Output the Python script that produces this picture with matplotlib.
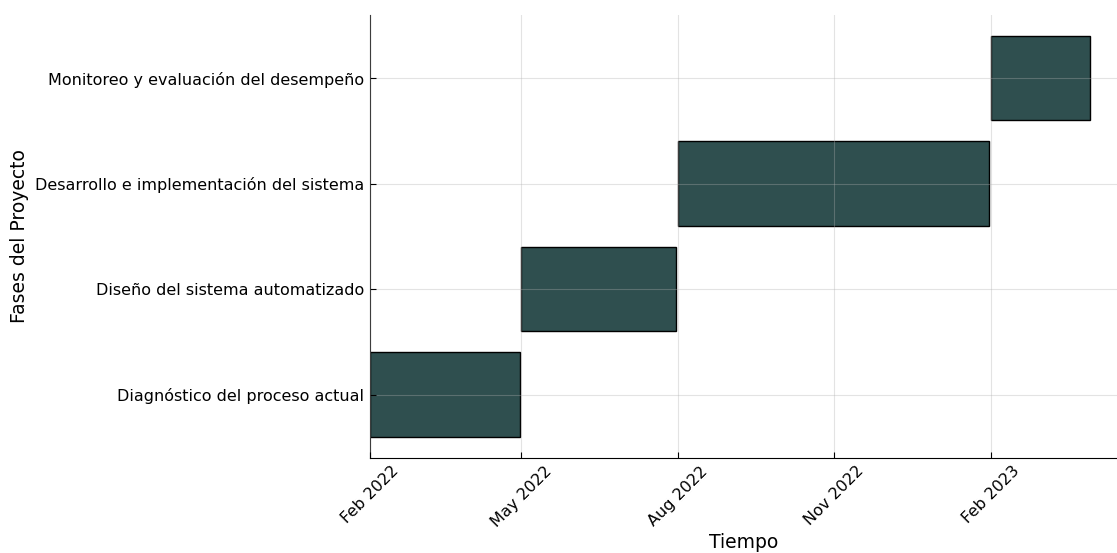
import matplotlib
matplotlib.use("Agg")
import matplotlib.pyplot as plt
import matplotlib.dates as mdates
import pandas as pd

plt.rcParams['font.family'] = ['DejaVu Sans']

fases = ['Diagnóstico del proceso actual',
         'Diseño del sistema automatizado',
         'Desarrollo e implementación del sistema',
         'Monitoreo y evaluación del desempeño']
inicio = pd.to_datetime(['2022-02-01', '2022-05-01', '2022-08-01', '2023-02-01'])
fin = pd.to_datetime(['2022-04-30', '2022-07-31', '2023-01-31', '2023-03-31'])

fig = plt.figure(figsize=(11.17, 5.53), dpi=100)
ax = fig.add_axes([0.331, 0.172, 0.669, 0.801])

ax.barh(fases, mdates.date2num(fin) - mdates.date2num(inicio),
        left=mdates.date2num(inicio), height=0.8,
        color='#2F4F4F', edgecolor='black', linewidth=1.0)

ax.set_xlim(mdates.date2num(pd.Timestamp('2022-02-01')),
            mdates.date2num(pd.Timestamp('2023-04-16')))
ax.set_ylim(-0.6, 3.6)
ax.xaxis_date()
ax.xaxis.set_major_locator(mdates.MonthLocator(bymonth=[2, 5, 8, 11]))
ax.xaxis.set_major_formatter(mdates.DateFormatter('%b %Y'))
plt.setp(ax.get_xticklabels(), rotation=45, ha='center')

ax.set_axisbelow(False)
ax.grid(True, color='#b0b0b0', alpha=0.35, linewidth=0.8)
ax.tick_params(direction='in', length=4, labelsize=11.5, pad=4)
ax.spines['top'].set_visible(False)
ax.spines['right'].set_visible(False)

ax.set_xlabel('Tiempo', fontsize=13.5, labelpad=2)
ax.set_ylabel('Fases del Proyecto', fontsize=13.5)

fig.savefig('out.png', dpi=100)
